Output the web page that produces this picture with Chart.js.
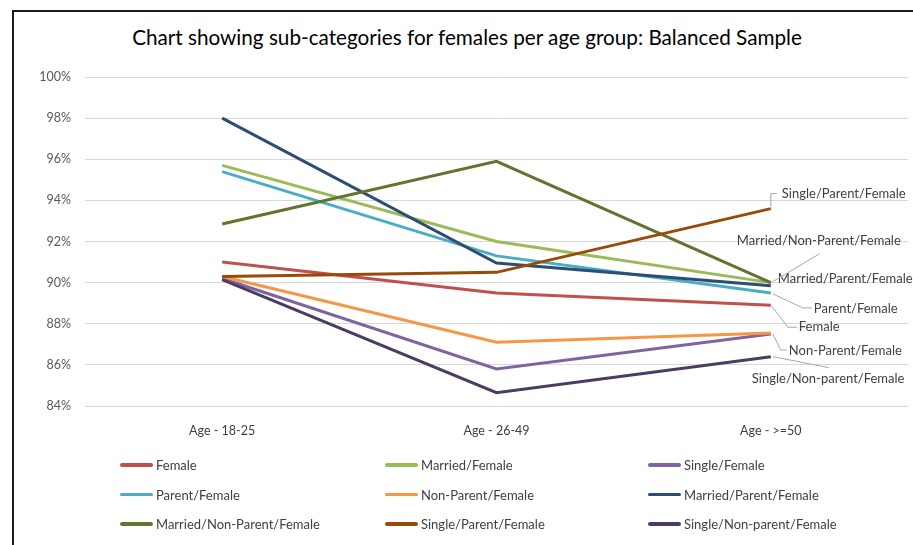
<!DOCTYPE html>
<html>
<head>
<meta charset="utf-8">
<script src="https://cdn.jsdelivr.net/npm/chart.js@4/dist/chart.umd.min.js"></script>
<style>
  body { margin: 0; width: 913px; height: 545px; overflow: hidden; background: #fff; font-family: Lato, "Open Sans", sans-serif; }
  #frame { position: absolute; left: 12px; top: 10px; width: 1000px; height: 600px; border-left: 2px solid #1a1a1a; border-top: 2px solid #1a1a1a; }
  #title { position: absolute; left: 0; width: 934px; top: 25px; text-align: center; font-size: 20.7px; color: #000; white-space: nowrap; }
  #chart { position: absolute; left: 0; top: 0; }
  #legend { position: absolute; left: 120px; top: 450px; display: grid; grid-template-columns: 265px 263px 263px; grid-auto-rows: 29.7px; }
  .item { display: flex; align-items: center; font-size: 13px; color: #404040; white-space: nowrap; }
  .swatch { width: 33px; height: 3.5px; border-radius: 2px; margin-right: 3px; }
</style>
</head>
<body>
<div id="frame"></div>
<div id="title">Chart showing sub-categories for females per age group: Balanced Sample</div>
<canvas id="chart" width="913" height="545"></canvas>
<div id="legend"></div>
<script>
// age groups on the x axis
const ageGroups = ['Age - 18-25', 'Age - 26-49', 'Age - >=50'];

// percentages
const female = [91.0, 89.5, 88.9];
const marriedFemale = [95.7, 92.0, 90.0];
const singleFemale = [90.2, 85.8, 87.5];
const parentFemale = [95.4, 91.3, 89.5];
const nonParentFemale = [90.3, 87.1, 87.55];
const marriedParentFemale = [98.0, 90.95, 89.85];
const marriedNonParentFemale = [92.85, 95.9, 90.0];
const singleParentFemale = [90.3, 90.5, 93.6];
const singleNonParentFemale = [90.15, 84.65, 86.4];

const yTicks = { min: 84, max: 100, step: 2 };

const series = [
  { label: 'Female', data: female, color: '#C0504D' },
  { label: 'Married/Female', data: marriedFemale, color: '#9BBB59' },
  { label: 'Single/Female', data: singleFemale, color: '#8064A2' },
  { label: 'Parent/Female', data: parentFemale, color: '#4BACC6' },
  { label: 'Non-Parent/Female', data: nonParentFemale, color: '#F79646' },
  { label: 'Married/Parent/Female', data: marriedParentFemale, color: '#2C4D75' },
  { label: 'Married/Non-Parent/Female', data: marriedNonParentFemale, color: '#5F7530' },
  { label: 'Single/Parent/Female', data: singleParentFemale, color: '#9A4A08' },
  { label: 'Single/Non-parent/Female', data: singleNonParentFemale, color: '#4D3B62' }
];

// end labels: text offset from the last point, leader line points relative to it
const endLabels = {
  'Single/Parent/Female': { dx: 11, dy: -15, leader: [[0, -2], [0, -15], [6, -15]] },
  'Married/Non-Parent/Female': { dx: -34, dy: -42, leader: [[2, -1], [49, -29]] },
  'Married/Parent/Female': { dx: 7, dy: -7, leader: null },
  'Parent/Female': { dx: 43, dy: 16, leader: [[2, 1], [32, 15], [41, 15]] },
  'Female': { dx: 28, dy: 22, leader: [[1, 1], [17, 22], [26, 22]] },
  'Non-Parent/Female': { dx: 18, dy: 18, leader: [[2, 1], [10, 17], [16, 17]] },
  'Single/Non-parent/Female': { dx: -19, dy: 22, leader: [[2, 0], [58, 11]] }
};

const endLabelPlugin = {
  id: 'endLabels',
  afterDatasetsDraw(chart) {
    const ctx = chart.ctx;
    ctx.save();
    chart.data.datasets.forEach((ds, i) => {
      const cfg = endLabels[ds.label];
      if (!cfg) return;
      const pts = chart.getDatasetMeta(i).data;
      const p = pts[pts.length - 1];
      if (cfg.leader) {
        ctx.strokeStyle = '#A6A6A6';
        ctx.lineWidth = 1;
        ctx.beginPath();
        cfg.leader.forEach((l, k) => {
          if (k === 0) ctx.moveTo(p.x + l[0], p.y + l[1]);
          else ctx.lineTo(p.x + l[0], p.y + l[1]);
        });
        ctx.stroke();
      }
      ctx.fillStyle = '#404040';
      ctx.font = '13px Lato, "Open Sans", sans-serif';
      ctx.textAlign = 'left';
      ctx.textBaseline = 'middle';
      ctx.fillText(ds.label, p.x + cfg.dx, p.y + cfg.dy);
    });
    ctx.restore();
  }
};

const chart = new Chart(document.getElementById('chart'), {
  type: 'line',
  data: {
    labels: ageGroups,
    datasets: series.map((s, i) => ({
      label: s.label,
      data: s.data,
      borderColor: s.color,
      backgroundColor: s.color,
      borderWidth: 3,
      pointRadius: 0,
      tension: 0,
      order: series.length - i
    }))
  },
  options: {
    responsive: false,
    animation: false,
    layout: { padding: { top: 77, left: 14, right: 5, bottom: 99 } },
    plugins: {
      legend: { display: false },
      title: { display: false },
      tooltip: { enabled: false }
    },
    scales: {
      x: {
        offset: true,
        grid: { display: false },
        border: { display: false },
        ticks: { color: '#404040', font: { family: 'Lato', size: 12.5 }, padding: 9 },
        afterFit(scale) { scale.height = 40; }
      },
      y: {
        min: yTicks.min,
        max: yTicks.max,
        grid: { color: '#D9D9D9', lineWidth: 1, drawTicks: false },
        border: { display: false },
        ticks: {
          stepSize: yTicks.step,
          color: '#595959',
          font: { family: 'Lato', size: 12.5 },
          padding: 14,
          callback: v => v + '%'
        },
        afterFit(scale) { scale.width = 71; }
      }
    }
  },
  plugins: [endLabelPlugin]
});

// legend in three columns, built from the chart's datasets
const legend = document.getElementById('legend');
chart.data.datasets.forEach(ds => {
  const item = document.createElement('div');
  item.className = 'item';
  const sw = document.createElement('span');
  sw.className = 'swatch';
  sw.style.background = ds.borderColor;
  item.appendChild(sw);
  item.appendChild(document.createTextNode(ds.label));
  legend.appendChild(item);
});
</script>
</body>
</html>
